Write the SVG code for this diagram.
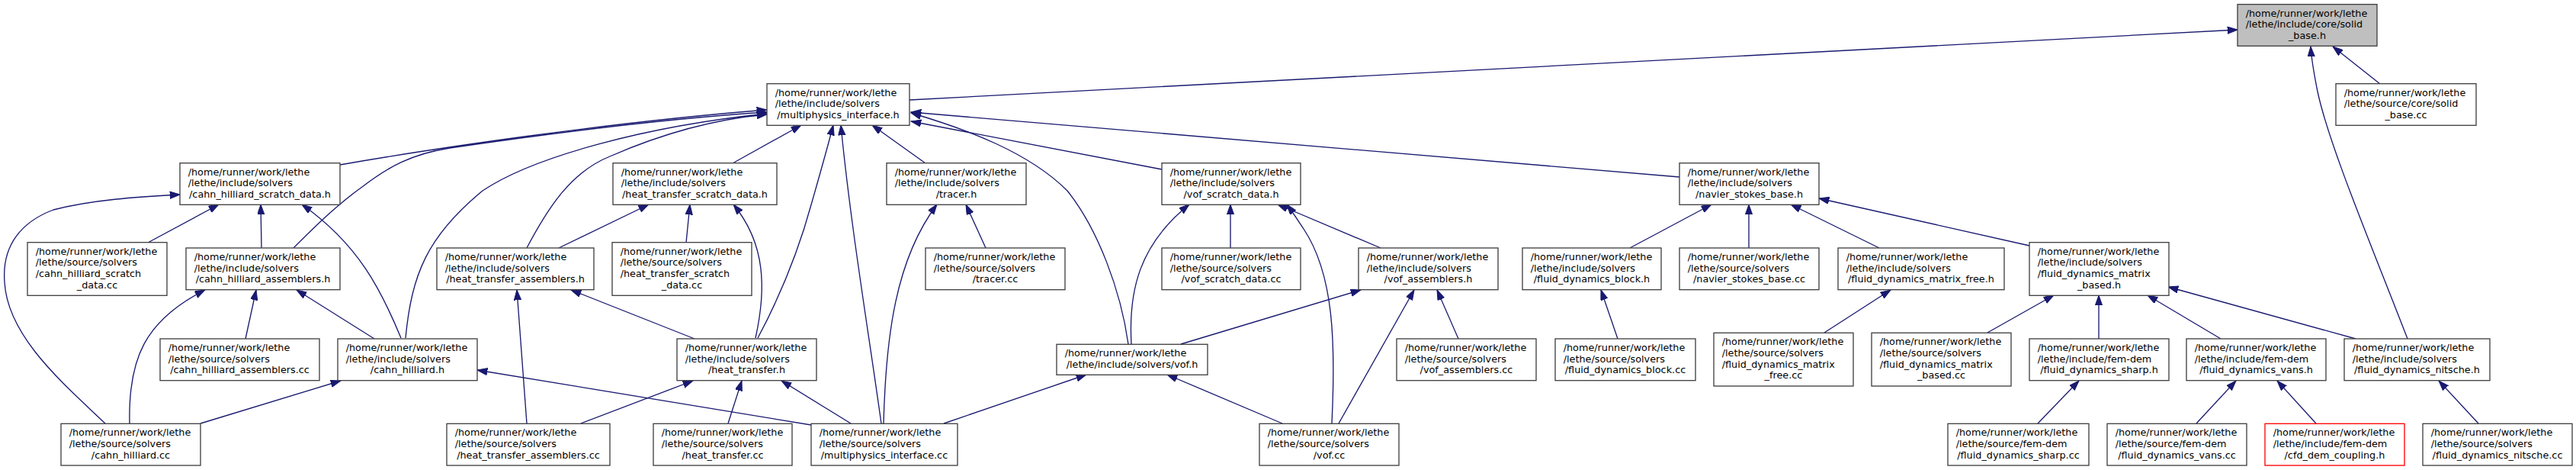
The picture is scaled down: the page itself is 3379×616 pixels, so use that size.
<svg xmlns="http://www.w3.org/2000/svg" width="3379" height="616" viewBox="0 0 3379 616">
<defs>
<marker id="ah" markerUnits="userSpaceOnUse" markerWidth="14" markerHeight="10" refX="13.3" refY="4.67" orient="auto">
<path d="M0,0 L13.3,4.67 L0,9.33 z" fill="#191970" stroke="#191970" stroke-width="1"/>
</marker>
<style>
.n rect{fill:#fff;stroke:#404040;stroke-width:1.33}
#n_sb rect{fill:#bfbfbf}
#n_cfd rect{stroke:#ff0000}
text{font-family:"DejaVu Sans","Liberation Sans",sans-serif;font-size:12.8px;fill:#000}
.c{text-anchor:middle}
#edges path{fill:none;stroke:#191970;stroke-width:1.33;marker-end:url(#ah)}
</style>
</defs>
<rect width="3379" height="616" fill="#fff"/>
<g id="edges">
<path d="M1193,131 L2935,39"/>
<path d="M3122,110 L3060,61"/>
<path d="M3158,444 C3110,320 3055,190 3040,120 C3035,95 3032,80 3031,61"/>
<path d="M446,216 C560,196 800,160 1006,144"/>
<path d="M385,325 C410,300 440,270 475,245 C510,218 540,202 590,194 C720,175 880,155 1006,147"/>
<path d="M532,443 C540,360 560,310 633,250 C700,205 850,165 1006,149"/>
<path d="M691,325 C720,270 750,225 800,205 C880,170 950,155 1006,150"/>
<path d="M961,214 L1051,164"/>
<path d="M994,443 C1025,385 1050,320 1065,265 C1075,230 1085,195 1093,164"/>
<path d="M1156,555 C1140,440 1115,290 1103,164"/>
<path d="M1214,214 L1144,164"/>
<path d="M1524,222 L1195,159"/>
<path d="M1480,451 C1470,380 1440,300 1400,250 C1350,200 1270,170 1195,148"/>
<path d="M2203,232 L1195,147"/>
<path d="M138,555 C80,500 10,440 6,370 C2,320 30,290 70,275 C120,262 180,258 236,255"/>
<path d="M194,318 L287,268"/>
<path d="M343,325 L342,268"/>
<path d="M526,443 C500,380 470,320 396,268"/>
<path d="M322,444 L336,380"/>
<path d="M491,444 L389,380"/>
<path d="M170,555 C168,470 190,420 269,380"/>
<path d="M263,555 L447,499"/>
<path d="M1064,557 L626,485"/>
<path d="M733,325 L851,268"/>
<path d="M900,318 L905,268"/>
<path d="M991,443 C1005,380 1005,320 962,268"/>
<path d="M691,555 L678,380"/>
<path d="M911,444 L749,380"/>
<path d="M762,555 L909,499"/>
<path d="M955,555 L973,499"/>
<path d="M1116,555 L1025,499"/>
<path d="M1159,555 C1162,440 1175,340 1229,268"/>
<path d="M1293,325 L1267,268"/>
<path d="M1484,451 C1480,380 1495,320 1560,268"/>
<path d="M1614,325 L1614,268"/>
<path d="M1811,325 L1676,268"/>
<path d="M1747,555 C1752,450 1750,360 1710,300 C1702,288 1695,277 1688,268"/>
<path d="M1549,451 L1785,380"/>
<path d="M1756,555 L1855,380"/>
<path d="M1913,444 L1885,380"/>
<path d="M1238,555 L1425,491"/>
<path d="M1682,555 L1531,491"/>
<path d="M2138,325 L2245,268"/>
<path d="M2294,325 L2294,268"/>
<path d="M2465,325 L2349,268"/>
<path d="M2662,322 L2386,260"/>
<path d="M2122,444 L2100,380"/>
<path d="M2393,436 L2480,380"/>
<path d="M2607,436 L2694,387"/>
<path d="M2753,444 L2753,387"/>
<path d="M2913,444 L2817,387"/>
<path d="M3090,444 L2844,376"/>
<path d="M2673,555 L2727,499"/>
<path d="M2881,555 L2933,499"/>
<path d="M3038,555 L2987,499"/>
<path d="M3251,555 L3199,499"/>
</g>
<g id="n_sb" class="n"><rect x="2935" y="5.7" width="183" height="54.6"/><text x="2945.7" y="21.7">/home/runner/work/lethe</text><text x="2945.7" y="36.4">/lethe/include/core/solid</text><text class="c" x="3026.5" y="51">_base.h</text></g>
<g id="n_mi" class="n"><rect x="1006" y="109.7" width="187" height="54.6"/><text x="1016.7" y="125.7">/home/runner/work/lethe</text><text x="1016.7" y="140.4">/lethe/include/solvers</text><text class="c" x="1099.5" y="155">/multiphysics_interface.h</text></g>
<g id="n_sbcc" class="n"><rect x="3064" y="109.7" width="184" height="54.6"/><text x="3074.7" y="125.7">/home/runner/work/lethe</text><text x="3074.7" y="140.4">/lethe/source/core/solid</text><text class="c" x="3156" y="155">_base.cc</text></g>
<g id="n_chsdh" class="n"><rect x="236" y="213.7" width="210" height="54.6"/><text x="246.7" y="229.7">/home/runner/work/lethe</text><text x="246.7" y="244.4">/lethe/include/solvers</text><text class="c" x="341" y="259">/cahn_hilliard_scratch_data.h</text></g>
<g id="n_htsdh" class="n"><rect x="804" y="213.7" width="215" height="54.6"/><text x="814.7" y="229.7">/home/runner/work/lethe</text><text x="814.7" y="244.4">/lethe/include/solvers</text><text class="c" x="911.5" y="259">/heat_transfer_scratch_data.h</text></g>
<g id="n_tracerh" class="n"><rect x="1163" y="213.7" width="183" height="54.6"/><text x="1173.7" y="229.7">/home/runner/work/lethe</text><text x="1173.7" y="244.4">/lethe/include/solvers</text><text class="c" x="1254.5" y="259">/tracer.h</text></g>
<g id="n_vsdh" class="n"><rect x="1524" y="213.7" width="182" height="54.6"/><text x="1534.7" y="229.7">/home/runner/work/lethe</text><text x="1534.7" y="244.4">/lethe/include/solvers</text><text class="c" x="1615" y="259">/vof_scratch_data.h</text></g>
<g id="n_nsbh" class="n"><rect x="2203" y="213.7" width="183" height="54.6"/><text x="2213.7" y="229.7">/home/runner/work/lethe</text><text x="2213.7" y="244.4">/lethe/include/solvers</text><text class="c" x="2294.5" y="259">/navier_stokes_base.h</text></g>
<g id="n_chsdcc" class="n"><rect x="36" y="317.7" width="183" height="69.6"/><text x="46.7" y="333.7">/home/runner/work/lethe</text><text x="46.7" y="348.4">/lethe/source/solvers</text><text x="46.7" y="363">/cahn_hilliard_scratch</text><text class="c" x="127.5" y="377.7">_data.cc</text></g>
<g id="n_chah" class="n"><rect x="244" y="325" width="202" height="54.7"/><text x="254.7" y="341">/home/runner/work/lethe</text><text x="254.7" y="355.7">/lethe/include/solvers</text><text class="c" x="345" y="370.3">/cahn_hilliard_assemblers.h</text></g>
<g id="n_htah" class="n"><rect x="573" y="325" width="206" height="54.7"/><text x="583.7" y="341">/home/runner/work/lethe</text><text x="583.7" y="355.7">/lethe/include/solvers</text><text class="c" x="676" y="370.3">/heat_transfer_assemblers.h</text></g>
<g id="n_htsdcc" class="n"><rect x="803" y="317.7" width="183" height="69.6"/><text x="813.7" y="333.7">/home/runner/work/lethe</text><text x="813.7" y="348.4">/lethe/source/solvers</text><text x="813.7" y="363">/heat_transfer_scratch</text><text class="c" x="894.5" y="377.7">_data.cc</text></g>
<g id="n_tracercc" class="n"><rect x="1214" y="325" width="183" height="54.7"/><text x="1224.7" y="341">/home/runner/work/lethe</text><text x="1224.7" y="355.7">/lethe/source/solvers</text><text class="c" x="1305.5" y="370.3">/tracer.cc</text></g>
<g id="n_vsdcc" class="n"><rect x="1524" y="325" width="182" height="54.7"/><text x="1534.7" y="341">/home/runner/work/lethe</text><text x="1534.7" y="355.7">/lethe/source/solvers</text><text class="c" x="1615" y="370.3">/vof_scratch_data.cc</text></g>
<g id="n_vah" class="n"><rect x="1782" y="325" width="183" height="54.7"/><text x="1792.7" y="341">/home/runner/work/lethe</text><text x="1792.7" y="355.7">/lethe/include/solvers</text><text class="c" x="1873.5" y="370.3">/vof_assemblers.h</text></g>
<g id="n_fdbh" class="n"><rect x="1997" y="325" width="182" height="54.7"/><text x="2007.7" y="341">/home/runner/work/lethe</text><text x="2007.7" y="355.7">/lethe/include/solvers</text><text class="c" x="2088" y="370.3">/fluid_dynamics_block.h</text></g>
<g id="n_nsbcc" class="n"><rect x="2203" y="325" width="183" height="54.7"/><text x="2213.7" y="341">/home/runner/work/lethe</text><text x="2213.7" y="355.7">/lethe/source/solvers</text><text class="c" x="2294.5" y="370.3">/navier_stokes_base.cc</text></g>
<g id="n_fdmfh" class="n"><rect x="2411" y="325" width="218" height="54.7"/><text x="2421.7" y="341">/home/runner/work/lethe</text><text x="2421.7" y="355.7">/lethe/include/solvers</text><text class="c" x="2520" y="370.3">/fluid_dynamics_matrix_free.h</text></g>
<g id="n_fdmbh" class="n"><rect x="2662" y="317.7" width="183" height="69.6"/><text x="2672.7" y="333.7">/home/runner/work/lethe</text><text x="2672.7" y="348.4">/lethe/include/solvers</text><text x="2672.7" y="363">/fluid_dynamics_matrix</text><text class="c" x="2753.5" y="377.7">_based.h</text></g>
<g id="n_chacc" class="n"><rect x="210" y="444" width="209" height="54.7"/><text x="220.7" y="460">/home/runner/work/lethe</text><text x="220.7" y="474.7">/lethe/source/solvers</text><text class="c" x="314.5" y="489.3">/cahn_hilliard_assemblers.cc</text></g>
<g id="n_chh" class="n"><rect x="443" y="444" width="183" height="54.7"/><text x="453.7" y="460">/home/runner/work/lethe</text><text x="453.7" y="474.7">/lethe/include/solvers</text><text class="c" x="534.5" y="489.3">/cahn_hilliard.h</text></g>
<g id="n_hth" class="n"><rect x="888" y="444" width="183" height="54.7"/><text x="898.7" y="460">/home/runner/work/lethe</text><text x="898.7" y="474.7">/lethe/include/solvers</text><text class="c" x="979.5" y="489.3">/heat_transfer.h</text></g>
<g id="n_vofh" class="n"><rect x="1386" y="451.3" width="198" height="40"/><text x="1396.7" y="467.3">/home/runner/work/lethe</text><text class="c" x="1485" y="482">/lethe/include/solvers/vof.h</text></g>
<g id="n_vacc" class="n"><rect x="1832" y="444" width="183" height="54.7"/><text x="1842.7" y="460">/home/runner/work/lethe</text><text x="1842.7" y="474.7">/lethe/source/solvers</text><text class="c" x="1923.5" y="489.3">/vof_assemblers.cc</text></g>
<g id="n_fdbcc" class="n"><rect x="2040" y="444" width="184" height="54.7"/><text x="2050.7" y="460">/home/runner/work/lethe</text><text x="2050.7" y="474.7">/lethe/source/solvers</text><text class="c" x="2132" y="489.3">/fluid_dynamics_block.cc</text></g>
<g id="n_fdmfcc" class="n"><rect x="2248" y="436.3" width="183" height="69.7"/><text x="2258.7" y="452.3">/home/runner/work/lethe</text><text x="2258.7" y="467">/lethe/source/solvers</text><text x="2258.7" y="481.6">/fluid_dynamics_matrix</text><text class="c" x="2339.5" y="496.3">_free.cc</text></g>
<g id="n_fdmbcc" class="n"><rect x="2455" y="436.3" width="183" height="69.7"/><text x="2465.7" y="452.3">/home/runner/work/lethe</text><text x="2465.7" y="467">/lethe/source/solvers</text><text x="2465.7" y="481.6">/fluid_dynamics_matrix</text><text class="c" x="2546.5" y="496.3">_based.cc</text></g>
<g id="n_fdsh" class="n"><rect x="2662" y="444" width="183" height="54.7"/><text x="2672.7" y="460">/home/runner/work/lethe</text><text x="2672.7" y="474.7">/lethe/include/fem-dem</text><text class="c" x="2753.5" y="489.3">/fluid_dynamics_sharp.h</text></g>
<g id="n_fdvh" class="n"><rect x="2868" y="444" width="183" height="54.7"/><text x="2878.7" y="460">/home/runner/work/lethe</text><text x="2878.7" y="474.7">/lethe/include/fem-dem</text><text class="c" x="2959.5" y="489.3">/fluid_dynamics_vans.h</text></g>
<g id="n_fdnh" class="n"><rect x="3075" y="444" width="191" height="54.7"/><text x="3085.7" y="460">/home/runner/work/lethe</text><text x="3085.7" y="474.7">/lethe/include/solvers</text><text class="c" x="3170.5" y="489.3">/fluid_dynamics_nitsche.h</text></g>
<g id="n_chcc" class="n"><rect x="80" y="555.3" width="183" height="54.7"/><text x="90.7" y="571.3">/home/runner/work/lethe</text><text x="90.7" y="586">/lethe/source/solvers</text><text class="c" x="171.5" y="600.6">/cahn_hilliard.cc</text></g>
<g id="n_htacc" class="n"><rect x="586" y="555.3" width="214" height="54.7"/><text x="596.7" y="571.3">/home/runner/work/lethe</text><text x="596.7" y="586">/lethe/source/solvers</text><text class="c" x="693" y="600.6">/heat_transfer_assemblers.cc</text></g>
<g id="n_htcc" class="n"><rect x="857" y="555.3" width="182" height="54.7"/><text x="867.7" y="571.3">/home/runner/work/lethe</text><text x="867.7" y="586">/lethe/source/solvers</text><text class="c" x="948" y="600.6">/heat_transfer.cc</text></g>
<g id="n_micc" class="n"><rect x="1064" y="555.3" width="192" height="54.7"/><text x="1074.7" y="571.3">/home/runner/work/lethe</text><text x="1074.7" y="586">/lethe/source/solvers</text><text class="c" x="1160" y="600.6">/multiphysics_interface.cc</text></g>
<g id="n_vofcc" class="n"><rect x="1652" y="555.3" width="183" height="54.7"/><text x="1662.7" y="571.3">/home/runner/work/lethe</text><text x="1662.7" y="586">/lethe/source/solvers</text><text class="c" x="1743.5" y="600.6">/vof.cc</text></g>
<g id="n_fdscc" class="n"><rect x="2555" y="555.3" width="185" height="54.7"/><text x="2565.7" y="571.3">/home/runner/work/lethe</text><text x="2565.7" y="586">/lethe/source/fem-dem</text><text class="c" x="2647.5" y="600.6">/fluid_dynamics_sharp.cc</text></g>
<g id="n_fdvcc" class="n"><rect x="2764" y="555.3" width="183" height="54.7"/><text x="2774.7" y="571.3">/home/runner/work/lethe</text><text x="2774.7" y="586">/lethe/source/fem-dem</text><text class="c" x="2855.5" y="600.6">/fluid_dynamics_vans.cc</text></g>
<g id="n_cfd" class="n"><rect x="2971" y="555.3" width="183" height="54.7"/><text x="2981.7" y="571.3">/home/runner/work/lethe</text><text x="2981.7" y="586">/lethe/include/fem-dem</text><text class="c" x="3062.5" y="600.6">/cfd_dem_coupling.h</text></g>
<g id="n_fdncc" class="n"><rect x="3178" y="555.3" width="196" height="54.7"/><text x="3188.7" y="571.3">/home/runner/work/lethe</text><text x="3188.7" y="586">/lethe/source/solvers</text><text class="c" x="3276" y="600.6">/fluid_dynamics_nitsche.cc</text></g>
</svg>
